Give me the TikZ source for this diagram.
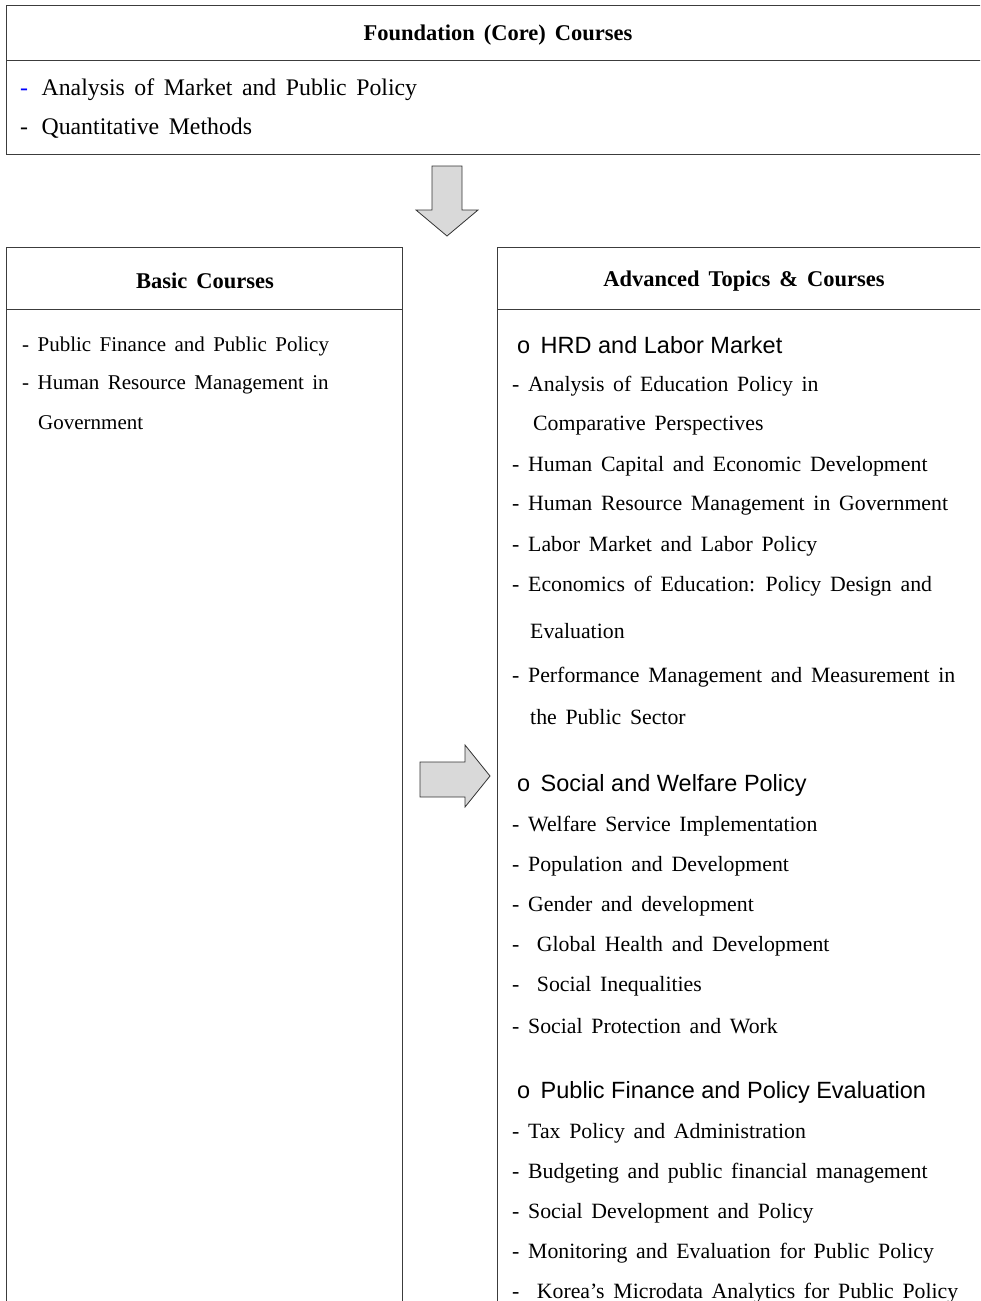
\documentclass[tikz,border=0pt]{standalone}
\usepackage{fontspec}
\setmainfont{Liberation Serif}[WordSpace=1.6]
\newfontfamily\topicfont{Liberation Sans}
\usetikzlibrary{positioning}
\definecolor{ArrowGray}{RGB}{217,217,217}
\definecolor{LineGray}{RGB}{60,60,60}

\begin{document}
\begin{tikzpicture}[x=1pt, y=-1pt,
	head/.style={font=\fontsize{22.5}{22.5}\selectfont\bfseries, inner sep=0pt},
	item/.style={anchor=west, inner sep=0pt, font=\fontsize{21.8}{21.8}\selectfont},
	basicitem/.style={anchor=west, inner sep=0pt, font=\fontsize{21}{21}\selectfont},
	core/.style={anchor=west, inner sep=0pt, font=\fontsize{23.8}{23.8}\selectfont},
	topic/.style={anchor=west, inner sep=0pt, font=\fontsize{23.5}{23.5}\topicfont},
	frame/.style={draw=LineGray, line width=1pt},
	block/.style={draw=black!80, fill=ArrowGray, line width=0.8pt, line join=miter}]
	\useasboundingbox (0,0) rectangle (980,1301);
	\clip (0,0) rectangle (980,1301);

	% boxes
	\draw[frame] (6,5) rectangle (1000,154);
	\draw[frame] (6,60) -- (1000,60);
	\draw[frame] (6,1320) |- (402,247) -- (402,1320);
	\draw[frame] (6,309) -- (402,309);
	\draw[frame] (1000,247) -| (497,1320);
	\draw[frame] (497,309) -- (1000,309);

	% block arrows
	\draw[block] (432,166) -- (462,166) -- (462,210) -- (478,210) -- (447,236)
		-- (416,210) -- (432,210) -- cycle;
	\draw[block] (420,762) -- (465,762) -- (465,745) -- (490,776) -- (465,807)
		-- (465,797) -- (420,797) -- cycle;

	% foundation
	\node[head] (core) at (498,35) {Foundation (Core) Courses};
	\node[core] (c1) at (20,90) {\textcolor{blue}{-}\, Analysis of Market and Public Policy};
	\node[core] (c2) at (20,128) {-\, Quantitative Methods};

	% basic
	\node[head] (basic) at (205,281) {Basic Courses};
	\node[basicitem] (b1) at (22,346) {- Public Finance and Public Policy};
	\node[basicitem] (b2) at (22,385) {- Human Resource Management in};
	\node[basicitem] (b3) at (38,423) {Government};

	% advanced
	\node[head] (adv) at (744,281) {Advanced Topics \& Courses};
	\node[topic] (t1) at (517,345) {o\ \,HRD and Labor Market};
	\node[item] (a1) at (512,386) {- Analysis of Education Policy in};
	\node[item] (a2) at (533,426) {Comparative Perspectives};
	\node[item] (a3) at (512,466) {- Human Capital and Economic Development};
	\node[item] (a4) at (512,506) {- Human Resource Management in Government};
	\node[item] (a5) at (512,546) {- Labor Market and Labor Policy};
	\node[item] (a6) at (512,586) {- Economics of Education: Policy Design and};
	\node[item] (a7) at (530,631) {Evaluation};
	\node[item] (a8) at (512,677) {- Performance Management and Measurement in};
	\node[item] (a9) at (530,717) {the Public Sector};

	\node[topic] (t2) at (517,785) {o\ \,Social and Welfare Policy};
	\node[item] (s1) at (512,826) {- Welfare Service Implementation};
	\node[item] (s2) at (512,866) {- Population and Development};
	\node[item] (s3) at (512,906) {- Gender and development};
	\node[item] (s4) at (512,946) {-\ \ Global Health and Development};
	\node[item] (s5) at (512,986) {-\ \ Social Inequalities};
	\node[item] (s6) at (512,1026) {- Social Protection and Work};

	\node[topic] (t3) at (517,1092) {o\ \,Public Finance and Policy Evaluation};
	\node[item] (p1) at (512,1133) {- Tax Policy and Administration};
	\node[item] (p2) at (512,1173) {- Budgeting and public financial management};
	\node[item] (p3) at (512,1213) {- Social Development and Policy};
	\node[item] (p4) at (512,1253) {- Monitoring and Evaluation for Public Policy};
	\node[item] (p5) at (512,1293) {-\ \ Korea’s Microdata Analytics for Public Policy};
\end{tikzpicture}
\end{document}
